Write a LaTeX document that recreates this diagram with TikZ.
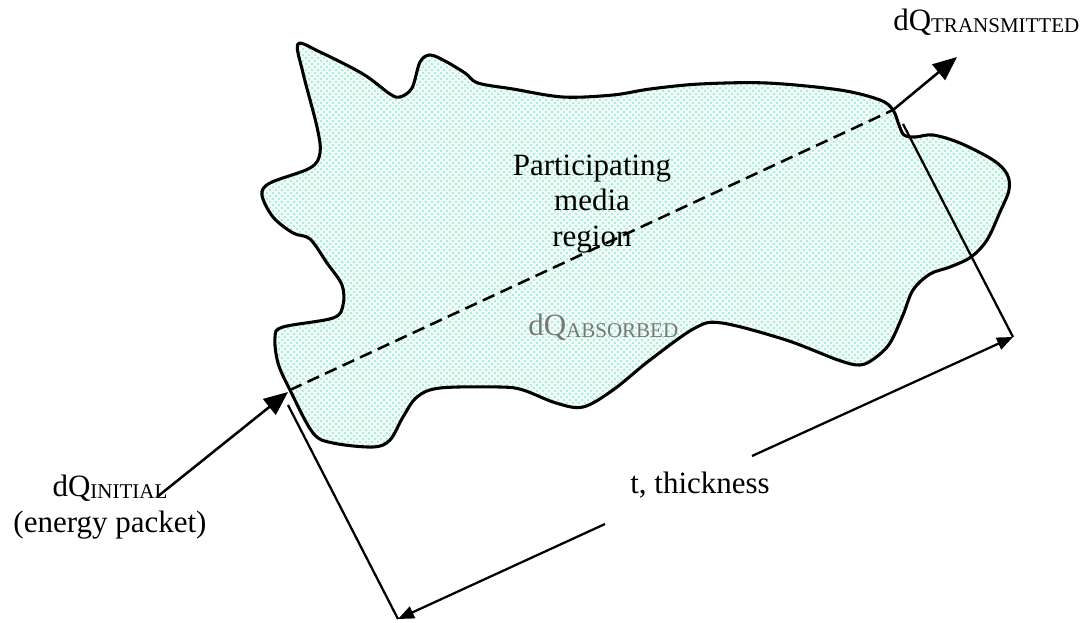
\documentclass[tikz,border=0pt]{standalone}
\usepackage{fontspec}
\setmainfont{Liberation Serif}
\usetikzlibrary{arrows.meta,patterns}
\pgfdeclarepatternformonly{mediadots}{\pgfqpoint{-1pt}{-1pt}}{\pgfqpoint{3.5pt}{3.5pt}}{\pgfqpoint{4.5pt}{4.5pt}}{%
  \pgfpathcircle{\pgfqpoint{0pt}{0pt}}{0.65pt}%
  \pgfpathcircle{\pgfqpoint{2.25pt}{2.25pt}}{0.65pt}%
  \pgfusepath{fill}}
\definecolor{dotcol}{RGB}{100,222,196}
\definecolor{tintcol}{RGB}{240,251,248}
\definecolor{absgray}{RGB}{120,120,120}
\newcommand\capsub[1]{\raisebox{-1.5pt}{\fontsize{15.75pt}{18pt}\selectfont #1}}
\begin{document}
\begin{tikzpicture}[x=0.75pt,y=-0.75pt,
  font=\fontsize{23.25pt}{26.5pt}\selectfont,
  blob/.style={line width=2.3pt, preaction={fill=tintcol}, pattern=mediadots, pattern color=dotcol},
  bigarrow/.style={line width=1.9pt, -{Triangle[length=18pt,width=15pt]}},
  dimline/.style={line width=1.7pt},
  dimarrow/.style={line width=1.7pt, -{Triangle[length=12pt,width=9.5pt]}},
  ray/.style={line width=1.9pt, dash pattern=on 9.5pt off 5pt},
  lbl/.style={inner sep=0pt}]
\useasboundingbox (0,0) rectangle (1086,622);

% participating media region
\draw[blob] plot[smooth cycle, tension=0.55] coordinates {
 (298,44) (320,52) (363,74) (390,94) (400,97) (412,88) (420,62) (430,55) (445,61)
 (465,73) (478,83) (513,89) (563,97) (613,95) (650,89) (700,84) (767,83) (840,90)
 (880,100) (893,110) (899,125) (904,135) (915,137) (933,135) (960,143) (993,160)
 (1007,174) (1009,190) (1000,212) (987,240) (971,257) (950,267) (930,274) (913,290)
 (903,315) (890,343) (875,358) (860,365) (838,360) (786,340) (722,323) (695,328)
 (650,360) (613,390) (583,407) (556,403) (523,390) (500,387) (440,388) (417,397)
 (403,417) (390,440) (373,447) (333,443) (313,433) (290,390) (278,363) (275,337)
 (283,327) (333,318) (343,305) (342,285) (327,263) (310,239) (293,233) (273,217)
 (262,195) (270,183) (310,168) (320,153) (317,127) (303,73)};

\coordinate (entry) at (290,390);
\coordinate (exit) at (893,110);
\coordinate (ttip) at (957,57);
\coordinate (itail) at (157,497);
\coordinate (itip) at (288,392);
\coordinate (lp1) at (288,405);
\coordinate (lp2) at (398,619);
\coordinate (rp1) at (903,124);
\coordinate (rp2) at (1013,337);
\coordinate (g1) at (605,524);
\coordinate (g2) at (752,456);

\draw[ray] (entry) -- (exit);
\draw[bigarrow] (exit) -- (ttip);
\draw[bigarrow] (itail) -- (itip);

\draw[dimline] (lp1) -- (lp2);
\draw[dimline] (rp1) -- (rp2);
\draw[dimarrow] (g1) -- (lp2);
\draw[dimarrow] (g2) -- (rp2);

\node[lbl, anchor=base west] (trans) at (893,30) {dQ\capsub{TRANSMITTED}};
\node[lbl, anchor=base west, text=absgray] (abs) at (528,335) {dQ\capsub{ABSORBED}};
\node[lbl, align=center] (init) at (110,507) {dQ\capsub{INITIAL}\\(energy packet)};
\node[lbl, align=center] (media) at (592,204) {Participating\\media\\region};
\node[lbl, anchor=base west] (thick) at (630,493) {t, thickness};
\end{tikzpicture}
\end{document}
